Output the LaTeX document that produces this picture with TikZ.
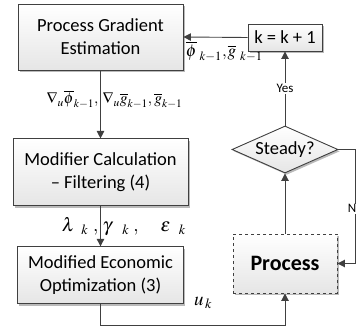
\documentclass[tikz,border=0pt]{standalone}
\usepackage{amsmath}
\usepackage{mathptmx}
\usepackage{fontspec}
\setmainfont{Carlito}
\usetikzlibrary{shapes.geometric, arrows.meta, positioning, calc, shadows}
\definecolor{dgray}{RGB}{64,64,64}
\tikzset{
    stepbox/.style={rectangle, draw=dgray, line width=0.9pt, top color=white, bottom color=black!10, drop shadow={shadow xshift=1.8pt, shadow yshift=-1.8pt, fill=black!45, opacity=0.6}, align=center, font=\fontsize{18.5}{23}\selectfont},
    decision/.style={diamond, draw=dgray, line width=0.9pt, top color=white, bottom color=black!10, drop shadow={shadow xshift=1.8pt, shadow yshift=-1.8pt, fill=black!45, opacity=0.6}, inner sep=0pt, aspect=2.25, font=\fontsize{18.5}{22}\selectfont},
    arrow/.style={-{Triangle[length=7.5pt, width=7.5pt]}, line width=0.9pt, dgray},
}

\begin{document}
\begin{tikzpicture}[
    x=1pt, y=-1pt,
    node distance=68pt,
    mathlbl/.style={font=\fontsize{16}{18}\selectfont, text=black, inner sep=0pt},
    small/.style={font=\fontsize{13}{15}\selectfont, text=black, fill=white, inner sep=1pt},
    >=Stealth
]
\useasboundingbox (0,0) rectangle (356,326);

% Left column: gradient, modifiers, optimization
\node[stepbox, minimum width=165pt, minimum height=66pt] (grad) at (100.5,37) {Process Gradient\\Estimation};
\node[stepbox, minimum width=175pt, minimum height=67pt, below=of grad] (modif) {Modifier Calculation\\\textendash{} Filtering (4)};
\node[stepbox, minimum width=166pt, minimum height=57pt, below=40pt of modif] (opt) {Modified Economic\\Optimization (3)};

% Right column: counter, test, plant
\node[stepbox, minimum width=74pt, minimum height=27pt] (incr) at (285,37.5) {k = k + 1};
\node[decision, minimum width=106pt, minimum height=47pt] (steady) at (285,149.5) {Steady?};
\node[stepbox, dashed, minimum width=104pt, minimum height=59pt, font=\fontsize{22}{26}\selectfont\bfseries] (proc) at (285,263.5) {Process};

% Arrows (the vertical lines run through the gap of their labels)
\draw[arrow] (incr.west) -- (grad.east) node[pos=1, anchor=north west, xshift=2pt, yshift=-4pt, mathlbl, font=\fontsize{17}{19}\selectfont] {$\overline{\phi}_{\hskip3pt k-1}{,}\hskip1pt\overline{g}_{\hskip4pt k-1}$};
\draw[arrow] (grad.south) -- (modif.north) node[midway, yshift=5pt, mathlbl, font=\fontsize{15.5}{18}\selectfont] {\llap{$\nabla_{u}\overline{\phi}_{k-1}{,}$}\hskip4pt\rlap{$\nabla_{u}\overline{g}_{k-1}{,}\hskip2pt\overline{g}_{k-1}$}};
\draw[arrow] (modif.south) -- (opt.north) node[midway, mathlbl, font=\fontsize{19}{21}\selectfont] {\llap{$\lambda_{\hskip9pt k}\hskip5pt{,}$}\hskip4pt\rlap{$\gamma_{\hskip12pt k}\hskip4pt{,}\hskip22pt\varepsilon_{\hskip10pt k}$}};

\coordinate (bend) at ($(opt.south)+(0,21)$);
\draw[arrow] (opt.south) -- (bend) -| (proc.south);
\node[mathlbl, font=\fontsize{19}{21}\selectfont, anchor=west] (uk) at ($(opt.south east)+(10,-1)$) {$u_{\,k}$};

\draw[arrow] (proc.north) -- (steady.south);
\draw[arrow] (steady.north) -- (incr.south) node[midway, small] {Yes};

\coordinate (nout) at ($(steady.east)+(17,0)$);
\draw[arrow] (steady.east) -- (nout) |- (proc.east) node[pos=0.26, xshift=-3.5pt, small] {N};

\end{tikzpicture}
\end{document}
